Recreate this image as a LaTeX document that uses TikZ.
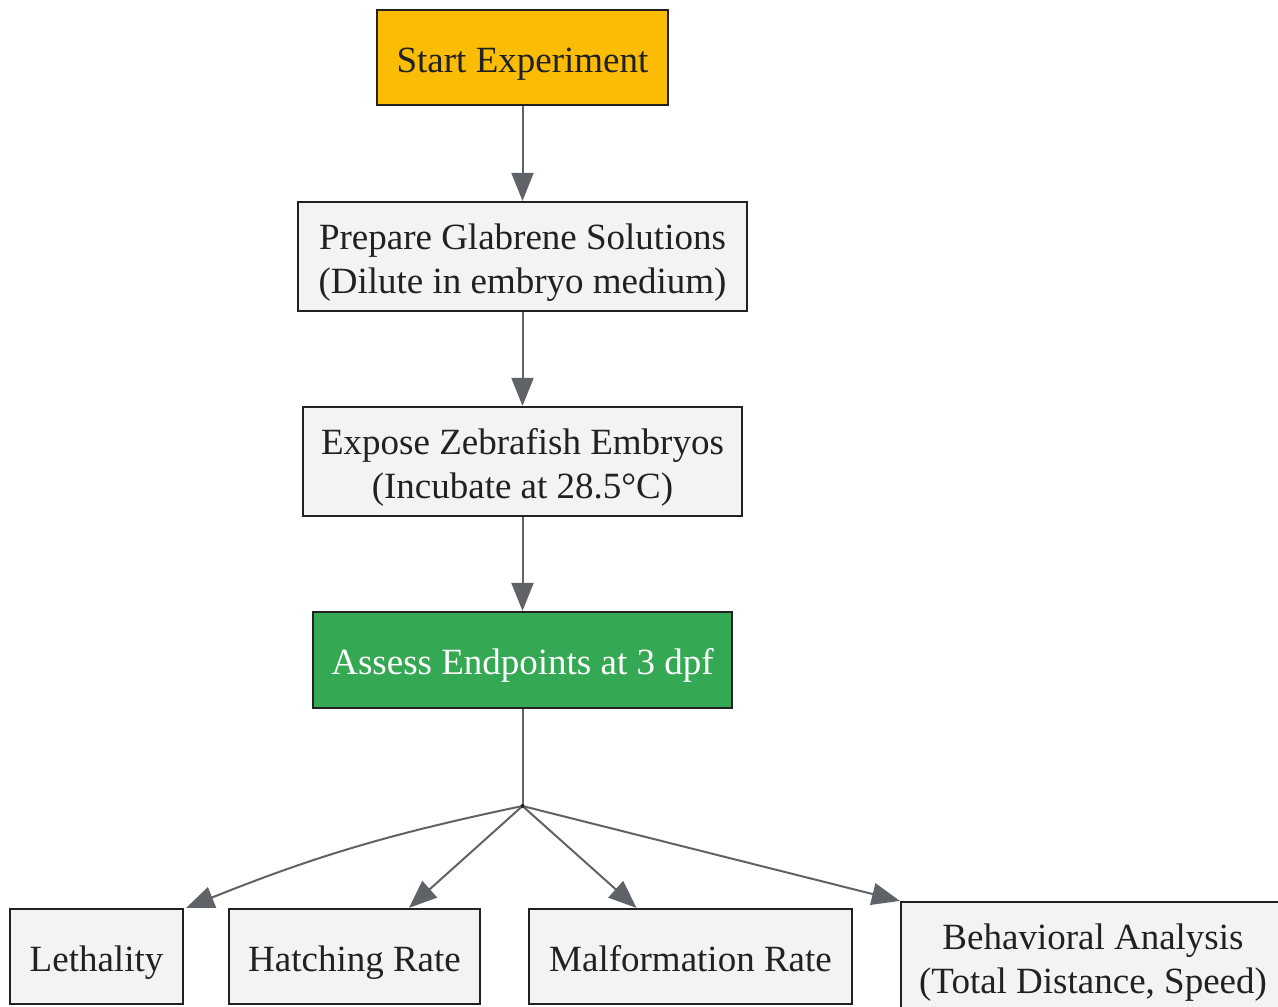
\documentclass[tikz,border=0pt]{standalone}
\usepackage{fontspec}
\setmainfont{Liberation Serif}
\usetikzlibrary{arrows.meta,calc}
\definecolor{edgegray}{HTML}{5F6368}
\definecolor{boxfill}{HTML}{F1F3F4}
\definecolor{startfill}{HTML}{FBBC05}
\definecolor{greenfill}{HTML}{34A853}
\definecolor{txt}{HTML}{202124}
\definecolor{border}{HTML}{222222}
\begin{document}
\begin{tikzpicture}[x=1pt,y=-1pt,
  box/.style={draw=border, line width=2.2pt, fill=boxfill, text=txt, inner sep=0pt,
    align=center, font=\fontsize{37}{44}\selectfont},
  oneline/.style={text height=37pt, text depth=8pt},
  twoline/.style={text height=81pt, text depth=8pt},
  conn/.style={draw=edgegray, line width=2pt, -{Triangle[length=28pt,width=22pt]}},
  plainconn/.style={draw=edgegray, line width=2pt}]
\useasboundingbox (0,0) rectangle (1278,1007);
\fill[white] (0,0) rectangle (1278,1007);

\node[box, oneline, fill=startfill, minimum width=291pt, minimum height=95pt] (start) at (522.5,57.5) {Start Experiment};
\node[box, twoline, minimum width=449pt, minimum height=109pt] (prep) at (522.5,256.5) {Prepare Glabrene Solutions\\(Dilute in embryo medium)};
\node[box, twoline, minimum width=439pt, minimum height=109pt] (expose) at (522.5,461.5) {Expose Zebrafish Embryos\\(Incubate at 28.5°C)};
\node[box, oneline, fill=greenfill, text=white, minimum width=419pt, minimum height=96pt] (assess) at (522.5,660) {Assess Endpoints at 3 dpf};

\node[box, oneline, minimum width=173pt, minimum height=95pt] (leth) at (96.5,956.5) {Lethality};
\node[box, oneline, minimum width=251pt, minimum height=95pt] (hatch) at (354.5,956.5) {Hatching Rate};
\node[box, oneline, minimum width=323pt, minimum height=95pt] (malf) at (690.5,956.5) {Malformation Rate};
\node[box, twoline, minimum width=384pt, minimum height=109pt] (behav) at (1093,956.5) {Behavioral Analysis\\(Total Distance, Speed)};

\coordinate (split) at (522.5,806);

\draw[conn] (start) -- (prep);
\draw[conn] (prep) -- (expose);
\draw[conn] (expose) -- (assess);
\draw[plainconn] (assess) -- (split);
\draw[conn] (split) to[bend right=5] ($(leth.north east)+(2,0)$);
\draw[conn] (split) -- ($(hatch.north west)!0.715!(hatch.north east)$);
\draw[conn] (split) -- ($(malf.north west)!0.334!(malf.north east)$);
\draw[conn] (split) -- (behav.north west);
\fill[border] (split) circle (2pt);
\end{tikzpicture}
\end{document}
